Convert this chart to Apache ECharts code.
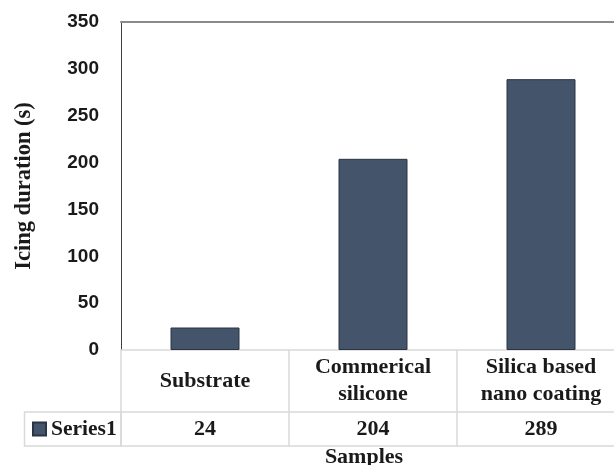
<!DOCTYPE html>
<html>
<head>
<meta charset="utf-8">
<script src="https://cdn.jsdelivr.net/npm/echarts@6/dist/echarts.min.js"></script>
<style>
  html, body { margin: 0; padding: 0; background: #ffffff; }
  #chart { width: 614px; height: 465px; }
</style>
</head>
<body>
<div id="chart"></div>
<script>
const categories = ['Substrate', 'Commerical\nsilicone', 'Silica based\nnano coating'];
const seriesName = 'Series1';
const values = [24, 204, 289];
const yTicks = { min: 0, max: 350, interval: 50 };
const yTitle = 'Icing duration (s)';
const xTitle = 'Samples';

const serif = '"Liberation Serif", "Times New Roman", serif';
const sans = '"Liberation Sans", Arial, sans-serif';
const textColor = '#1a1a1a';
const tableLine = '#d9d9d9';

const chart = echarts.init(document.getElementById('chart'), null, { renderer: 'canvas' });

const option = {
  animation: false,
  backgroundColor: '#ffffff',
  grid: { left: 121, top: 22, width: 504, height: 328, containLabel: false, outerBoundsMode: 'none' },
  legend: {
    show: true,
    data: [seriesName],
    left: 32,
    top: 417,
    padding: 0,
    itemWidth: 13,
    itemHeight: 13,
    icon: 'rect',
    textStyle: { fontFamily: serif, fontWeight: 'bold', fontSize: 21.5, color: textColor, lineHeight: 24 }
  },
  xAxis: [
    {
      type: 'category',
      data: categories,
      position: 'bottom',
      boundaryGap: true,
      axisLine: { show: true, lineStyle: { color: tableLine, width: 1.5 } },
      axisTick: { show: true, interval: 0, length: 96, lineStyle: { color: tableLine, width: 1.5 } },
      axisLabel: {
        interval: 0, margin: 31, verticalAlign: 'middle', align: 'center',
        fontFamily: serif, fontWeight: 'bold', fontSize: 22, lineHeight: 27, color: textColor
      },
      splitLine: { show: false }
    },
    {
      type: 'category',
      data: values.map(v => String(v)),
      position: 'bottom',
      offset: 62,
      axisLine: { show: true, lineStyle: { color: tableLine, width: 1.5 } },
      axisTick: { show: false },
      axisLabel: {
        interval: 0, margin: 17, verticalAlign: 'middle', align: 'center',
        fontFamily: serif, fontWeight: 'bold', fontSize: 22, color: textColor
      },
      splitLine: { show: false }
    },
    {
      type: 'category',
      data: categories,
      position: 'bottom',
      offset: 96,
      axisLine: { show: true, lineStyle: { color: tableLine, width: 1.5 } },
      axisTick: { show: false },
      axisLabel: { show: false },
      name: xTitle,
      nameLocation: 'middle',
      nameGap: 0,
      nameTextStyle: {
        fontFamily: serif, fontWeight: 'bold', fontSize: 22, color: textColor,
        padding: [0, 18, 0, 0]
      }
    },
    {
      type: 'category',
      data: categories,
      position: 'top',
      axisLine: { show: true, lineStyle: { color: '#8a8a8a', width: 2 } },
      axisTick: { show: false },
      axisLabel: { show: false }
    }
  ],
  yAxis: {
    type: 'value',
    min: yTicks.min,
    max: yTicks.max,
    interval: yTicks.interval,
    axisLine: { show: true, lineStyle: { color: '#404040', width: 1 } },
    axisTick: { show: false },
    splitLine: { show: false },
    axisLabel: {
      margin: 22,
      fontFamily: sans, fontWeight: 'bold', fontSize: 19, color: textColor
    },
    name: yTitle,
    nameLocation: 'middle',
    nameGap: 85,
    nameRotate: 90,
    nameTextStyle: { fontFamily: serif, fontWeight: 'bold', fontSize: 22.5, color: textColor }
  },
  graphic: [
    {
      type: 'rect',
      shape: { x: 24.5, y: 412, width: 96.5, height: 34 },
      style: { fill: 'none', stroke: tableLine, lineWidth: 1.5 },
      silent: true
    }
  ],
  series: [
    {
      name: seriesName,
      type: 'bar',
      xAxisIndex: 0,
      data: values,
      barWidth: 69,
      itemStyle: { color: '#44546A', borderColor: '#2b3442', borderWidth: 1 }
    }
  ]
};

chart.setOption(option);
</script>
</body>
</html>
